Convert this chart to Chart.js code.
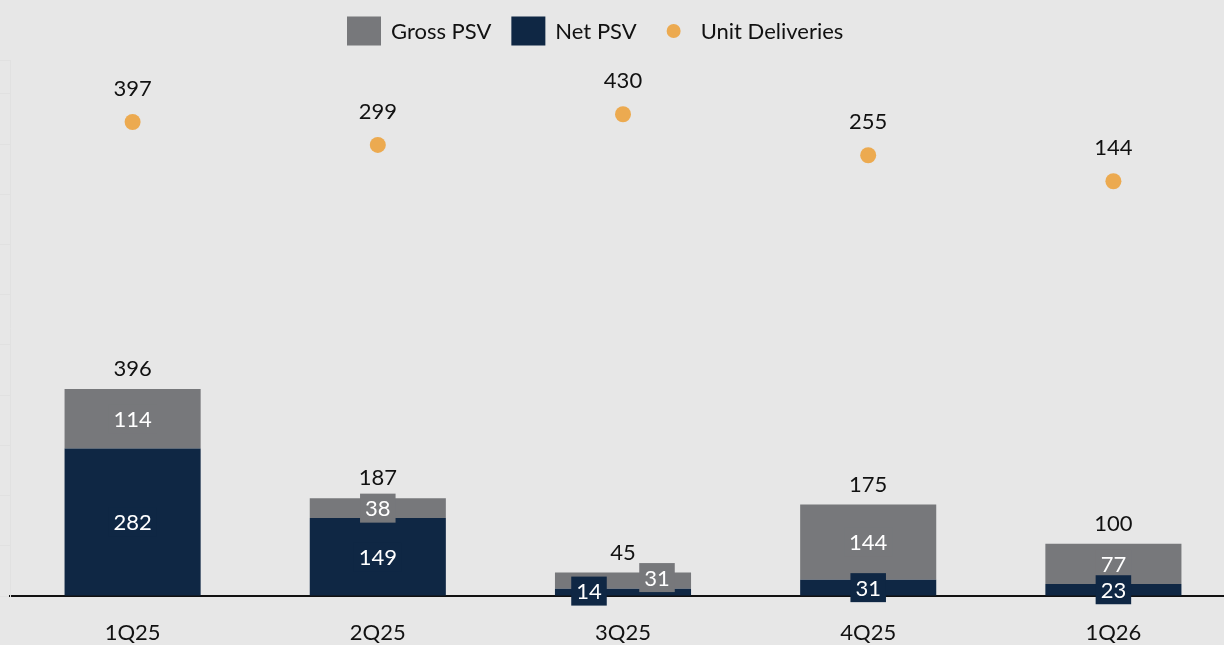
<!DOCTYPE html>
<html>
<head>
<meta charset="utf-8">
<script src="https://cdn.jsdelivr.net/npm/chart.js@4.4.1/dist/chart.umd.min.js"></script>
<style>
  html, body { margin: 0; padding: 0; background: #e7e7e7; overflow: hidden; }
  #chart { display: block; width: 1236px; height: 645px; }
</style>
</head>
<body>
<canvas id="chart" width="1236" height="645"></canvas>
<script>
/* ---------- data ---------- */
const categories = ['1Q25', '2Q25', '3Q25', '4Q25', '1Q26'];
const netPSV = [282, 149, 14, 31, 23];
const grossOnTop = [114, 38, 31, 144, 77];   // gross minus net, the grey segment
const unitDeliveries = [397, 299, 430, 255, 144];

const COLORS = { gross: '#77787b', net: '#0f2744', units: '#ecaa50', text: '#111111' };
const FONT = 'Lato, "DejaVu Sans", sans-serif';

// label nudges for the crowded 3Q25 bar: [dx, dy] per dataset index
const labelShift = { 2: { 0: [-34, -1], 1: [34, -3] } };

/* ---------- plugins ---------- */
const valueLabels = {
  id: 'valueLabels',
  afterDatasetsDraw(chart) {
    const ctx = chart.ctx;
    ctx.save();
    ctx.font = '22px ' + FONT;
    ctx.textAlign = 'center';
    ctx.textBaseline = 'middle';

    // segment labels, grey first so navy boxes sit on top
    [1, 0].forEach(di => {
      const ds = chart.data.datasets[di];
      chart.getDatasetMeta(di).data.forEach((bar, i) => {
        const sh = (labelShift[i] && labelShift[i][di]) || [0, 0];
        const x = bar.x + sh[0];
        const y = (bar.y + bar.base) / 2 + sh[1];
        const txt = String(ds.data[i]);
        const w = ctx.measureText(txt).width + 10, h = 29;
        ctx.fillStyle = ds.backgroundColor;
        ctx.fillRect(x - w / 2, y - h / 2, w, h);
        ctx.fillStyle = '#ffffff';
        ctx.fillText(txt, x, y + 1);
      });
    });

    // totals above the stacks
    ctx.fillStyle = COLORS.text;
    chart.getDatasetMeta(1).data.forEach((bar, i) => {
      ctx.fillText(String(netPSV[i] + grossOnTop[i]), bar.x, bar.y - 20);
    });

    // unit delivery values above the dots
    chart.getDatasetMeta(2).data.forEach((pt, i) => {
      ctx.fillText(String(unitDeliveries[i]), pt.x, pt.y - 33);
    });
    ctx.restore();
  }
};

const topLegend = {
  id: 'topLegend',
  afterDraw(chart) {
    const ctx = chart.ctx;
    const ds = chart.data.datasets;
    const items = [ds[1], ds[0], ds[2]];
    const boxW = 34, boxH = 29, gap = 10, spacing = 20, cy = 31;
    ctx.save();
    ctx.font = '22px ' + FONT;
    ctx.textBaseline = 'middle';
    ctx.textAlign = 'left';
    const widths = items.map(d => boxW + gap + ctx.measureText(d.label).width);
    let x = 347;
    items.forEach((d, k) => {
      if (d.type === 'line') {
        ctx.fillStyle = d.pointBackgroundColor;
        ctx.beginPath();
        ctx.arc(x + boxW / 2, cy, 7, 0, Math.PI * 2);
        ctx.fill();
      } else {
        ctx.fillStyle = d.backgroundColor;
        ctx.fillRect(x, cy - boxH / 2, boxW, boxH);
      }
      ctx.fillStyle = COLORS.text;
      ctx.fillText(d.label, x + boxW + gap, cy + 1);
      x += widths[k] + spacing;
    });
    ctx.restore();
  }
};

/* ---------- chart ---------- */
// canvas is 12px wider than the page: the plot runs past the right edge like the source crop
new Chart(document.getElementById('chart'), {
  type: 'bar',
  data: {
    labels: categories,
    datasets: [
      { label: 'Net PSV', data: netPSV, backgroundColor: COLORS.net, stack: 'psv', yAxisID: 'y' },
      { label: 'Gross PSV', data: grossOnTop, backgroundColor: COLORS.gross, stack: 'psv', yAxisID: 'y' },
      {
        label: 'Unit Deliveries', type: 'line', data: unitDeliveries, yAxisID: 'y2',
        showLine: false, pointRadius: 8, pointHoverRadius: 8,
        pointBackgroundColor: COLORS.units, pointBorderWidth: 0, borderColor: COLORS.units
      }
    ]
  },
  options: {
    responsive: false,
    animation: false,
    layout: { autoPadding: false, padding: { top: 60, left: 10, right: 0, bottom: 0 } },
    datasets: { bar: { barPercentage: 0.555, categoryPercentage: 1 } },
    plugins: { legend: { display: false }, tooltip: { enabled: false } },
    scales: {
      x: {
        stacked: true,
        afterFit(s) { s.height = 49; s.paddingLeft = 0; s.paddingRight = 0; },
        grid: { display: false, drawTicks: false },
        border: { display: true, color: '#111111', width: 2 },
        ticks: { color: COLORS.text, font: { family: FONT, size: 22 }, padding: 24 }
      },
      y: {
        stacked: true, min: 0, max: 1025,
        afterFit(s) { s.width = 0; },
        ticks: { display: false, stepSize: 96 },
        grid: { drawOnChartArea: false, tickLength: 10, color: '#e1e1e1' },
        border: { display: true, color: '#e1e1e1', width: 1 }
      },
      y2: { display: false, min: -1626, max: 661.5 }
    }
  },
  plugins: [valueLabels, topLegend]
});
</script>
</body>
</html>
